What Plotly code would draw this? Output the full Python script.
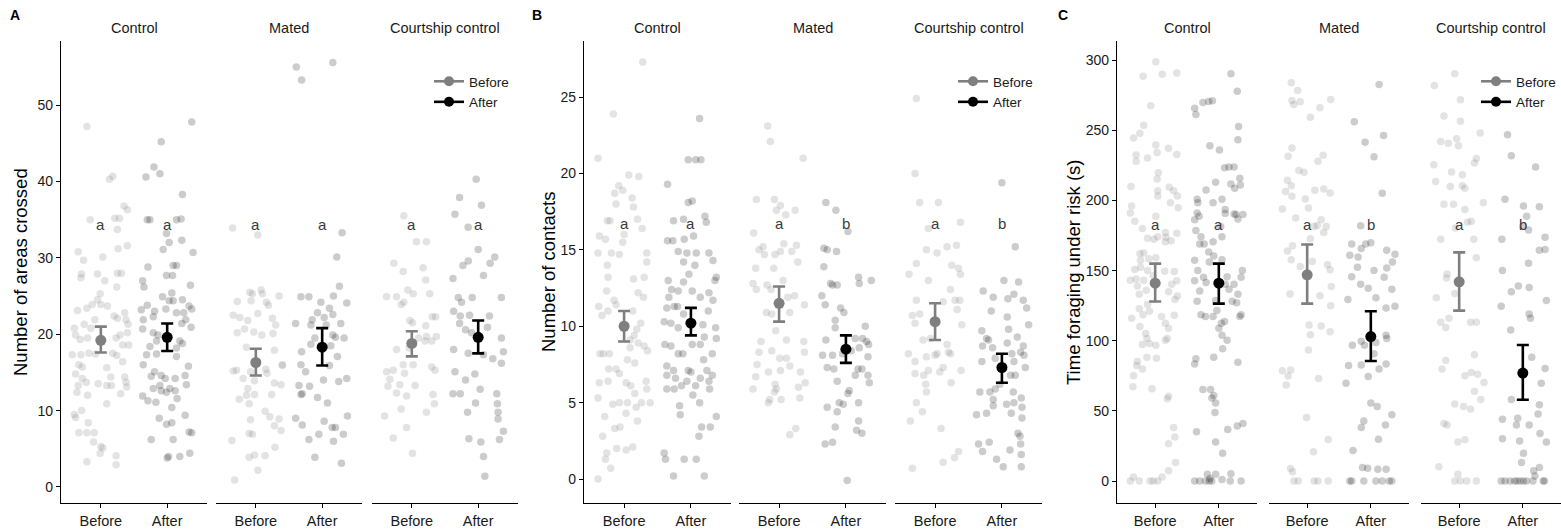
import plotly.graph_objects as go

# ---------------- data ----------------
FACETS = ["Control", "Mated", "Courtship control"]
CONDITIONS = ["Before", "After"]
PANEL_LABELS = ["A", "B", "C"]
Y_TITLES = ["Number of areas crossed", "Number of contacts", "Time foraging under risk (s)"]
A_TICKS = [0, 10, 20, 30, 40, 50]
B_TICKS = [0, 5, 10, 15, 20, 25]
C_TICKS = [0, 50, 100, 150, 200, 250, 300]

# individual observations (y) and their horizontal jitter (category units)
A_CTRL_BEF_Y = [47.2,40.7,40.3,35.0,36.3,36.8,35.2,35.2,33.7,31.2,31.6,30.8,29.7,27.9,27.4,27.9,30.1,27.0,28.0,28.0,26.2,23.1,23.4,23.9,24.5,25.3,23.9,23.7,22.4,22.1,22.8,21.9,21.3,19.9,19.5,18.6,20.2,18.6,17.5,17.2,20.8,19.9,19.3,19.5,20.8,21.9,21.3,17.3,17.3,17.5,17.4,16.0,15.7,14.8,14.2,13.7,13.3,12.4,12.0,13.5,14.4,13.3,13.3,12.2,14.4,13.7,13.1,16.4,15.6,10.9,9.5,9.1,10.0,7.1,8.4,7.1,7.1,5.9,5.3,5.1,4.4,3.3,2.9,4.1]
A_CTRL_BEF_JIT = [-0.21,0.18,0.13,-0.16,0.40,0.35,0.28,0.21,0.25,0.26,0.40,-0.34,-0.26,-0.29,-0.30,-0.05,0.03,0.06,0.25,0.31,0.24,-0.35,-0.21,-0.13,-0.05,-0.01,0.00,0.10,0.20,0.25,0.36,0.38,0.41,0.29,0.23,0.33,0.40,0.42,0.18,0.24,-0.40,-0.38,-0.31,-0.20,-0.15,-0.09,-0.25,-0.43,-0.30,-0.18,-0.08,-0.33,-0.28,-0.38,-0.28,-0.22,-0.34,-0.36,-0.20,-0.04,0.15,0.09,0.16,0.30,0.36,0.38,0.39,0.33,0.09,0.09,-0.40,-0.38,-0.29,-0.33,-0.19,-0.21,-0.10,-0.11,0.00,0.03,-0.01,-0.21,0.23,0.23]
A_CTRL_AFT_Y = [47.8,45.2,41.9,41.0,40.6,38.3,35.0,35.0,35.0,35.1,33.2,32.0,32.3,31.1,30.7,28.8,29.0,29.0,27.7,27.7,26.4,27.0,26.2,25.4,24.9,24.4,24.4,24.5,23.7,23.3,23.2,23.8,23.0,23.3,22.8,22.8,21.9,21.9,22.3,21.4,20.9,20.7,20.2,19.9,19.1,19.1,18.8,18.4,17.3,17.4,17.1,18.2,15.8,16.0,15.1,14.5,14.6,14.2,13.3,12.9,14.2,14.6,13.4,12.9,12.6,12.4,12.6,11.6,11.9,11.3,11.1,10.4,9.4,9.0,8.2,8.4,7.2,7.1,6.2,6.2,4.0,3.8,4.0,4.4]
A_CTRL_AFT_JIT = [0.37,-0.09,-0.20,-0.11,-0.32,0.23,-0.30,-0.26,0.14,0.21,-0.01,0.03,0.22,-0.06,0.39,-0.29,0.09,0.14,-0.01,0.08,0.35,-0.37,-0.35,0.07,-0.07,0.03,0.09,0.23,0.33,0.37,-0.39,-0.30,-0.19,-0.02,0.14,0.25,0.28,-0.36,-0.21,0.22,0.36,-0.37,-0.21,-0.14,-0.16,0.19,0.23,-0.26,-0.31,-0.16,0.14,0.14,0.32,-0.36,-0.19,-0.24,-0.09,-0.03,-0.11,0.04,0.12,0.27,0.29,-0.21,-0.09,-0.01,0.12,0.15,-0.37,-0.29,-0.17,0.07,0.27,-0.12,-0.01,0.07,0.33,0.37,0.09,-0.24,0.02,0.00,0.19,0.34]
A_MAT_BEF_Y = [33.9,33.0,25.5,25.3,25.8,25.3,24.3,24.2,23.8,25.0,24.4,22.5,22.2,21.8,22.7,22.1,21.2,20.2,20.7,20.3,19.9,20.1,18.3,17.9,16.0,15.2,15.3,15.1,15.4,14.9,14.2,13.9,13.6,13.4,12.9,12.0,12.1,12.1,11.5,10.9,9.9,9.2,8.9,8.8,8.0,7.4,7.0,6.9,6.1,5.2,3.9,4.2,4.1,2.2,0.9,15.9]
A_MAT_BEF_JIT = [-0.35,0.03,-0.09,-0.05,0.08,0.10,-0.28,0.16,0.19,0.35,-0.07,-0.34,-0.24,-0.12,0.03,0.25,0.30,-0.28,-0.17,-0.03,0.09,0.26,-0.14,0.28,0.40,-0.34,-0.29,-0.08,0.15,0.17,-0.19,-0.02,0.28,0.38,-0.12,-0.14,-0.02,0.24,-0.25,-0.10,0.14,0.21,0.35,-0.08,0.28,0.38,-0.10,-0.05,-0.36,0.29,-0.10,-0.02,0.14,0.03,-0.32,0.40]
A_MAT_AFT_Y = [55.0,53.3,55.6,33.3,30.1,26.3,24.9,24.9,24.2,23.4,25.0,24.1,22.8,22.2,22.6,21.4,21.9,21.2,21.2,21.4,19.9,19.6,19.5,17.7,18.7,19.5,18.5,17.1,15.9,16.0,15.1,13.3,13.2,12.2,12.1,11.7,14.0,13.8,14.2,11.0,9.3,9.0,8.1,8.6,7.8,7.8,6.2,6.9,6.0,6.9,3.9,3.1]
A_MAT_AFT_JIT = [-0.39,-0.31,0.16,0.30,0.22,0.26,-0.32,-0.20,-0.02,0.11,0.17,0.37,-0.07,0.03,0.16,-0.40,-0.15,-0.17,0.06,0.28,0.16,0.20,0.33,-0.31,-0.17,-0.11,0.13,0.23,0.11,-0.32,-0.25,-0.35,-0.19,-0.30,-0.32,-0.07,0.02,0.25,0.37,0.08,0.38,-0.40,-0.30,0.03,0.15,0.20,-0.20,-0.05,0.17,0.32,-0.11,0.29]
A_CRT_BEF_Y = [35.5,32.1,32.1,29.3,28.2,28.7,27.1,24.9,24.9,23.9,24.2,25.8,25.3,25.3,22.3,22.3,21.1,19.7,19.7,21.8,21.5,19.5,19.1,18.0,18.2,19.1,15.1,15.3,16.0,14.9,16.0,15.7,15.3,14.1,13.4,13.2,12.3,11.9,13.3,12.1,10.9,9.3,10.2,7.8,9.8,6.4,4.4]
A_CRT_BEF_JIT = [-0.12,0.07,0.22,-0.27,-0.13,0.17,0.21,-0.38,-0.23,-0.16,-0.12,-0.06,0.02,0.27,0.31,0.36,0.21,0.22,0.37,-0.03,0.01,0.10,0.20,-0.23,-0.04,0.30,-0.38,-0.28,-0.13,-0.11,0.02,0.30,0.35,-0.33,-0.18,-0.36,-0.23,-0.08,0.05,0.32,0.34,-0.41,-0.16,-0.08,0.22,-0.28,0.01]
A_CRT_AFT_Y = [40.3,37.9,36.9,35.7,34.0,31.1,29.0,29.6,29.3,30.1,27.7,27.3,24.8,24.2,24.8,24.8,23.0,22.4,22.5,22.4,21.4,20.6,20.2,20.9,19.5,17.7,18.0,17.5,17.3,16.8,16.2,14.8,14.0,15.1,12.8,12.2,12.2,11.0,9.8,12.2,10.9,9.8,8.9,7.3,6.2,6.3,5.9,4.0,1.4]
A_CRT_AFT_JIT = [-0.03,-0.28,0.05,-0.35,-0.15,0.00,-0.23,-0.15,0.18,0.25,0.08,-0.38,-0.30,-0.25,-0.09,0.35,-0.37,-0.27,-0.13,0.17,-0.28,-0.19,-0.10,0.14,0.35,0.38,-0.37,-0.15,0.08,0.22,0.35,-0.05,-0.19,-0.35,0.03,-0.38,-0.27,-0.04,-0.16,0.28,0.29,0.30,0.30,0.38,0.32,-0.14,0.04,0.08,0.10]

B_CTRL_BEF_Y = [27.3,23.9,21.0,19.9,19.8,19.2,18.7,18.9,18.0,18.4,17.8,16.9,16.9,16.4,15.9,15.7,16.0,17.0,14.8,14.8,14.7,15.5,14.8,14.2,14.0,13.2,13.1,13.2,12.3,12.2,11.9,11.3,11.7,11.4,10.7,11.0,11.0,10.2,9.8,9.4,9.1,8.9,8.7,8.4,8.2,8.2,8.2,8.6,7.8,7.6,7.2,7.2,6.3,6.4,6.9,6.3,6.1,5.6,6.4,5.9,5.3,4.9,5.0,5.0,4.7,5.0,5.0,3.8,4.1,3.3,3.4,4.3,2.8,1.7,1.3,0.7,2.0,1.9,2.1,0.0]
B_CTRL_BEF_JIT = [0.28,-0.16,-0.39,0.07,0.22,-0.08,-0.14,-0.02,-0.12,0.12,0.14,-0.25,-0.21,0.27,-0.37,-0.28,0.00,0.20,-0.39,-0.19,-0.07,-0.02,0.34,0.34,-0.25,-0.24,0.14,0.30,-0.26,0.21,0.29,-0.38,-0.15,-0.12,-0.33,-0.24,0.13,0.25,0.19,0.15,0.09,0.21,0.30,0.35,-0.36,-0.31,-0.22,0.09,0.05,0.16,-0.23,-0.12,-0.37,-0.24,-0.07,0.03,0.10,0.16,0.33,0.34,-0.39,-0.17,-0.07,0.05,0.18,0.26,0.39,0.20,-0.29,-0.14,-0.06,0.03,-0.32,-0.26,-0.28,-0.20,-0.11,0.03,0.13,-0.39]
B_CTRL_AFT_Y = [23.6,20.9,20.9,20.9,19.3,18.1,18.2,17.2,16.8,16.9,17.0,15.6,15.6,15.7,15.9,14.9,14.8,14.8,14.8,14.3,14.2,13.4,14.0,13.0,12.4,12.3,12.9,13.2,13.0,12.3,12.2,11.9,11.9,11.7,11.2,11.3,11.3,10.8,11.0,10.3,10.2,9.9,10.1,9.9,9.3,9.2,8.8,8.7,8.2,8.2,8.8,8.8,8.2,7.8,7.4,7.1,7.1,7.0,7.1,6.8,6.8,6.6,6.4,6.6,6.4,5.9,5.9,6.1,6.1,5.9,5.5,5.0,4.8,4.2,4.1,3.4,3.4,2.8,1.7,1.3,1.3,1.3,0.2,0.2]
B_CTRL_AFT_JIT = [0.13,-0.04,0.07,0.15,-0.35,-0.04,0.02,0.21,0.23,-0.26,-0.11,-0.35,-0.27,-0.10,0.04,-0.19,-0.06,0.08,0.27,0.33,-0.11,-0.03,0.06,-0.34,-0.29,-0.19,-0.11,0.38,0.36,0.02,0.27,-0.33,0.14,0.33,-0.36,-0.25,-0.20,-0.11,0.26,-0.40,-0.30,-0.19,0.18,0.37,0.20,0.38,-0.39,-0.30,-0.19,-0.12,0.02,0.14,0.32,0.19,-0.36,-0.26,-0.04,0.00,0.24,0.32,-0.36,-0.23,-0.06,0.14,0.27,-0.36,-0.25,-0.14,0.07,0.28,0.03,0.13,-0.17,-0.16,0.38,0.29,0.16,0.12,-0.40,-0.38,-0.10,0.08,-0.26,0.20]
B_MAT_BEF_Y = [23.1,22.1,21.0,18.3,18.3,17.9,17.6,17.3,17.6,16.1,15.0,15.2,14.7,14.7,14.9,15.4,14.9,15.3,14.2,13.8,13.8,12.8,12.4,12.7,12.4,13.0,12.0,11.9,11.4,10.9,10.8,10.9,9.7,9.1,9.0,8.3,8.4,9.0,8.3,7.9,7.9,7.5,6.7,7.0,7.1,7.4,7.0,5.9,6.2,5.9,5.7,6.0,6.3,5.2,5.2,5.3,5.0,2.9,3.3]
B_MAT_BEF_JIT = [-0.17,-0.13,0.36,-0.34,-0.07,0.02,-0.04,0.10,0.24,-0.38,-0.30,-0.24,-0.22,-0.06,0.02,0.07,0.19,0.26,0.28,-0.35,-0.08,-0.39,-0.34,-0.18,-0.12,0.06,0.23,0.13,0.38,-0.19,-0.11,0.16,-0.05,0.11,-0.27,-0.30,-0.11,0.37,0.38,0.01,0.11,-0.33,-0.35,-0.16,0.02,0.16,0.32,-0.39,-0.06,-0.04,-0.07,0.29,0.39,0.03,-0.14,0.31,-0.16,0.16,0.25]
B_MAT_AFT_Y = [18.1,17.6,16.2,15.1,15.0,14.9,13.9,12.8,12.7,12.7,12.0,13.2,12.8,13.0,11.4,11.2,10.9,10.4,9.9,10.0,9.1,9.2,9.2,9.0,8.8,8.1,8.1,8.2,8.4,8.6,8.0,7.3,7.2,7.2,7.2,6.4,6.8,6.8,6.3,5.8,5.6,5.0,4.9,5.0,4.4,4.7,3.4,3.8,3.0,3.2,2.3,2.4,-0.1]
B_MAT_AFT_JIT = [-0.30,-0.15,0.03,-0.33,-0.28,-0.14,-0.33,-0.23,-0.20,-0.13,-0.36,0.19,0.20,0.38,-0.31,-0.08,-0.03,-0.16,-0.16,0.29,-0.30,0.14,0.25,0.31,0.34,-0.35,-0.20,-0.05,0.08,0.20,0.33,-0.28,-0.18,0.18,0.24,-0.13,0.14,0.33,0.35,0.05,0.03,-0.10,-0.04,0.19,-0.13,-0.28,-0.16,0.19,0.24,0.16,-0.31,-0.20,0.02]
B_CRT_BEF_Y = [24.9,20.0,18.1,18.1,16.4,16.8,14.1,15.0,14.8,15.2,15.3,13.4,14.0,13.8,13.4,13.0,12.4,11.6,11.7,11.7,11.7,11.1,10.7,10.2,10.8,10.1,9.1,9.2,8.8,8.3,8.2,7.7,8.0,8.1,8.2,8.2,6.8,6.9,7.1,7.0,7.3,7.1,6.3,5.7,6.2,5.0,4.4,3.8,3.3,1.8,1.4,1.1,0.7]
B_CRT_BEF_JIT = [-0.28,-0.30,-0.23,0.05,-0.10,0.38,-0.28,-0.13,0.03,0.18,0.32,-0.39,0.25,0.35,0.38,-0.10,0.23,0.12,0.30,0.37,-0.28,0.33,-0.34,-0.30,-0.23,0.40,-0.18,-0.07,0.18,0.20,-0.40,-0.30,-0.13,0.00,0.03,0.23,-0.17,-0.30,-0.10,0.07,0.12,0.39,0.24,-0.13,-0.14,-0.28,-0.19,-0.37,0.09,0.35,0.29,0.12,-0.34]
B_CRT_AFT_Y = [19.4,15.2,13.0,12.9,12.3,11.9,11.8,12.1,11.7,11.2,11.0,10.6,10.1,9.7,9.2,9.1,9.8,9.3,8.7,8.9,8.7,8.6,8.3,8.1,7.7,7.9,8.2,7.7,7.3,6.8,6.8,5.7,5.7,5.2,5.9,6.2,5.7,5.3,4.2,4.3,4.8,4.9,5.0,4.3,4.7,4.0,3.0,2.8,2.3,2.3,1.8,2.4,1.3,0.8,1.9,1.6,0.8]
B_CRT_AFT_JIT = [0.00,0.20,0.03,0.25,-0.28,-0.13,0.09,0.18,0.32,0.37,-0.16,0.08,0.40,-0.30,-0.23,-0.20,0.10,0.23,0.32,0.08,-0.29,-0.14,0.28,0.33,-0.30,-0.10,0.15,0.18,0.35,0.13,0.20,-0.33,-0.18,-0.13,-0.10,-0.03,0.17,0.29,-0.38,-0.23,-0.13,0.07,0.18,0.14,0.30,0.30,0.24,0.27,0.28,-0.35,-0.29,-0.19,-0.08,0.02,0.12,0.29,0.29]

C_CTRL_BEF_Y = [298.8,288.4,289.9,290.8,267.4,253.6,247.8,244.4,230.3,232.3,227.9,239.5,234.2,237.1,232.8,219.7,215.3,206.9,203.2,210.0,209.3,206.9,203.2,198.4,196.0,191.1,194.8,185.1,180.0,188.7,174.2,172.3,177.1,173.7,176.6,173.0,170.6,171.3,162.1,162.6,158.5,159.2,157.3,150.7,152.4,150.0,146.4,143.2,143.2,144.0,139.1,136.0,133.1,149.5,149.3,142.8,140.3,135.0,131.9,129.4,125.8,122.9,118.6,121.0,116.1,117.3,112.5,108.9,118.1,110.1,105.2,101.6,97.3,98.0,96.8,100.4,101.6,88.3,85.2,82.3,79.8,87.6,75.0,67.3,65.8,60.5,58.6,38.2,31.5,26.6,13.3,7.3,2.9,2.9,0,0,0,0,0]
C_CTRL_BEF_JIT = [0.01,-0.19,0.11,0.34,-0.07,-0.18,-0.24,-0.34,-0.12,-0.30,-0.30,0.01,0.03,0.21,0.34,0.05,0.03,0.04,0.04,-0.38,0.22,0.29,0.35,0.24,-0.37,-0.39,0.36,-0.32,-0.20,0.01,0.04,-0.02,0.16,0.17,0.34,-0.12,0.16,0.25,-0.24,-0.18,-0.10,0.01,-0.23,-0.32,-0.23,-0.12,-0.03,-0.18,-0.39,-0.30,-0.28,-0.14,-0.25,0.15,0.30,0.34,0.26,0.21,0.35,0.31,-0.12,-0.25,-0.19,-0.09,-0.37,0.10,0.16,0.21,0.30,-0.24,-0.15,-0.13,-0.20,-0.09,0.01,0.16,0.19,-0.13,-0.28,-0.29,-0.20,0.02,-0.34,-0.35,-0.05,0.21,0.19,0.29,0.31,0.21,0.32,0.21,0.11,-0.34,-0.39,-0.25,-0.08,-0.03,0.04]
C_CTRL_AFT_Y = [290.3,277.8,265.7,261.3,269.8,270.5,271.0,252.6,243.2,239.0,235.9,223.3,223.8,223.8,211.7,208.6,215.8,211.0,212.9,207.4,200.8,198.4,198.4,191.1,186.3,188.7,200.8,193.6,190.7,190.4,190.0,190.0,186.8,178.6,174.2,170.6,181.5,174.2,168.9,168.9,163.3,160.4,157.8,156.1,157.3,150.0,145.2,141.5,142.8,135.5,128.2,118.6,117.3,145.7,140.3,136.7,140.3,145.2,150.0,133.1,128.2,127.0,118.6,117.3,128.7,121.5,117.3,113.7,112.5,108.9,104.0,100.4,94.4,87.1,83.5,88.3,84.7,65.3,65.3,61.0,55.6,59.3,48.9,35.1,36.8,39.2,41.1,27.8,19.8,4.8,1.9,4.8,5.3,0,0,0,0,0,1.2,0,0]
C_CTRL_AFT_JIT = [0.19,0.29,-0.38,-0.36,-0.25,-0.16,-0.10,0.31,0.30,-0.14,0.01,0.09,0.16,0.24,0.19,0.25,0.33,0.34,-0.05,-0.20,-0.34,-0.33,-0.09,-0.34,-0.38,-0.31,0.05,0.10,0.10,0.24,0.27,0.38,0.30,-0.36,-0.28,-0.09,0.03,0.05,-0.30,-0.23,-0.16,-0.08,0.05,-0.15,-0.38,-0.33,-0.24,-0.20,-0.38,-0.30,-0.34,-0.28,-0.21,0.13,0.10,0.16,0.24,0.35,0.37,0.30,0.21,0.28,0.35,0.33,-0.05,-0.03,-0.09,0.09,0.04,0.00,0.05,0.13,0.06,-0.36,-0.38,-0.08,0.30,-0.25,-0.13,-0.08,-0.05,-0.11,-0.06,-0.35,0.14,0.29,0.38,-0.05,0.06,-0.18,-0.14,-0.05,0.19,-0.38,-0.30,-0.21,-0.15,-0.11,0.05,0.18,0.35]
C_MAT_BEF_Y = [283.9,278.4,271.2,270.3,268.4,271.9,266.0,259.3,237.4,231.5,232.2,227.9,221.3,220.1,214.4,210.5,206.3,203.0,207.2,208.2,205.3,201.0,193.9,194.6,187.5,186.3,182.2,181.5,177.2,181.5,172.7,167.7,163.9,157.7,156.5,153.0,154.1,150.6,138.7,133.4,132.0,124.9,111.3,110.6,104.2,106.5,93.5,78.7,79.2,74.9,68.5,73.2,45.4,29.7,20.9,9.0,6.6,0,0,0,0,0]
C_MAT_BEF_JIT = [-0.25,-0.15,-0.24,-0.11,-0.21,0.37,0.20,0.05,-0.24,-0.30,0.25,0.17,-0.13,-0.05,-0.31,-0.25,-0.34,-0.24,0.12,0.26,0.36,-0.03,-0.39,0.02,-0.18,0.22,0.16,0.30,0.26,0.11,0.05,-0.23,-0.31,-0.25,0.08,-0.11,0.32,0.36,0.38,-0.27,0.20,0.37,0.03,0.22,0.05,0.36,0.02,-0.39,-0.26,-0.30,-0.33,0.18,-0.01,0.33,0.10,-0.26,-0.23,-0.21,-0.14,0.11,0.17,0.33]
C_MAT_AFT_Y = [282.6,256.0,241.5,246.3,231.1,205.2,181.9,168.9,165.7,168.9,169.9,164.5,161.6,160.9,159.7,152.4,150.0,151.9,156.1,145.7,140.3,137.4,145.2,136.7,124.6,130.7,129.4,123.4,96.8,99.7,96.8,98.7,90.7,104.0,101.6,82.3,82.7,79.8,83.5,69.7,74.5,55.6,53.2,47.2,42.8,39.9,38.2,29.8,21.8,9.7,9.2,8.5,8.5,0,0,0,0,0,0,0]
C_MAT_AFT_JIT = [0.13,-0.26,-0.09,0.20,0.05,0.18,-0.16,-0.30,-0.15,-0.08,0.00,0.25,0.38,-0.33,-0.20,-0.21,0.05,0.25,0.34,-0.30,-0.16,-0.04,0.21,0.33,0.38,0.08,-0.36,0.24,-0.29,-0.15,-0.10,0.08,0.05,0.24,0.25,-0.35,-0.15,0.13,0.24,-0.39,-0.04,0.00,0.10,0.33,-0.11,0.23,-0.15,0.12,-0.28,-0.13,-0.05,0.11,0.24,-0.33,-0.30,-0.11,0.08,0.18,0.29,0.33]
C_CRT_BEF_Y = [290.3,281.9,271.7,260.1,256.5,248.0,242.0,240.7,243.9,239.0,229.9,226.7,225.5,220.2,218.3,213.4,210.4,209.9,208.6,197.2,198.4,197.2,193.6,185.1,184.4,172.3,180.3,172.3,159.2,147.6,130.7,144.7,133.6,116.1,113.2,109.4,113.2,113.2,90.0,85.9,79.8,75.0,77.4,76.2,70.2,64.1,54.9,53.2,51.3,58.1,41.1,39.9,27.8,29.5,10.2,4.8,0,0,0,0]
C_CRT_BEF_JIT = [-0.07,-0.39,0.02,-0.24,0.02,0.33,-0.29,-0.17,-0.04,-0.01,0.27,0.24,-0.40,-0.12,0.05,-0.37,0.05,-0.14,0.09,-0.24,0.38,-0.09,0.09,0.19,0.13,-0.29,-0.06,0.23,0.27,-0.19,-0.36,-0.20,-0.07,-0.16,-0.29,-0.21,0.18,0.27,0.24,-0.21,-0.27,0.09,0.19,0.29,0.39,0.24,-0.07,0.07,0.18,0.34,-0.24,-0.19,-0.02,0.09,-0.32,-0.02,-0.07,0.02,0.12,0.27]
C_CRT_AFT_Y = [173.7,246.8,231.8,223.8,200.8,196.0,188.7,195.5,172.3,181.5,179.0,165.0,164.5,155.3,150.0,135.0,139.1,137.9,128.7,124.6,119.0,116.1,107.7,88.3,80.3,69.7,54.4,47.9,58.1,44.0,44.8,39.9,39.9,33.9,27.8,30.2,28.6,19.8,13.3,7.3,9.7,3.6,0,0,0,0,0,0,0,0,0,0,0]
C_CRT_AFT_JIT = [0.35,-0.24,-0.18,0.20,-0.28,0.01,0.06,0.26,-0.33,0.00,0.09,0.35,0.26,0.09,-0.32,-0.18,-0.07,0.10,0.37,-0.34,0.10,0.12,-0.19,0.14,0.35,0.29,0.26,0.24,-0.18,-0.32,-0.08,0.10,-0.10,0.27,0.37,-0.32,-0.05,0.01,-0.02,0.17,0.26,0.19,-0.34,-0.28,-0.20,-0.13,-0.09,-0.04,0.01,0.06,0.16,0.32,0.34]

# means with lower / upper error limits; order: Ctrl-B, Ctrl-A, Mated-B, Mated-A, Court-B, Court-A
A_MEAN = [19.2, 19.6, 16.3, 18.3, 18.8, 19.6]
A_LO = [17.6, 17.8, 14.6, 15.9, 17.1, 17.5]
A_HI = [21.0, 21.4, 18.1, 20.8, 20.4, 21.8]
B_MEAN = [10.0, 10.2, 11.5, 8.5, 10.3, 7.3]
B_LO = [9.0, 9.4, 10.3, 7.6, 9.1, 6.3]
B_HI = [11.0, 11.2, 12.6, 9.4, 11.5, 8.2]
C_MEAN = [141, 141, 147, 103, 142, 77]
C_LO = [128, 126.5, 126.5, 85.6, 121.5, 58]
C_HI = [155, 155, 168.6, 121, 163, 97]

# significance letters
A_LETTERS = ["a", "a", "a", "a", "a", "a"]
B_LETTERS = ["a", "a", "a", "b", "a", "b"]
C_LETTERS = ["a", "a", "a", "b", "a", "b"]
A_LETTER_Y = 34.4
B_LETTER_Y = 16.7
C_LETTER_Y = 182.7

# ---------------- layout helpers ----------------
W, H = 1561, 532
Y_TOP, Y_BOT = 41, 503
FONT = "Liberation Sans, Arial, sans-serif"
PT_COL = ["rgba(128,128,128,0.22)", "rgba(0,0,0,0.2)"]
MEAN_COL = ["#7f7f7f", "#000000"]

panels = [
    dict(points=[(A_CTRL_BEF_Y, A_CTRL_BEF_JIT, A_CTRL_AFT_Y, A_CTRL_AFT_JIT),
                 (A_MAT_BEF_Y, A_MAT_BEF_JIT, A_MAT_AFT_Y, A_MAT_AFT_JIT),
                 (A_CRT_BEF_Y, A_CRT_BEF_JIT, A_CRT_AFT_Y, A_CRT_AFT_JIT)],
         mean=A_MEAN, lo=A_LO, hi=A_HI, letters=A_LETTERS, ly=A_LETTER_Y,
         ticks=A_TICKS, yrange=[-2.1, 58.4],
         starts=[61, 216, 372], width=146, title_x=20, tag_x=15, tag_y=15, leg_x=429),
    dict(points=[(B_CTRL_BEF_Y, B_CTRL_BEF_JIT, B_CTRL_AFT_Y, B_CTRL_AFT_JIT),
                 (B_MAT_BEF_Y, B_MAT_BEF_JIT, B_MAT_AFT_Y, B_MAT_AFT_JIT),
                 (B_CRT_BEF_Y, B_CRT_BEF_JIT, B_CRT_AFT_Y, B_CRT_AFT_JIT)],
         mean=B_MEAN, lo=B_LO, hi=B_HI, letters=B_LETTERS, ly=B_LETTER_Y,
         ticks=B_TICKS, yrange=[-1.57, 28.67],
         starts=[584, 739, 895], width=147, title_x=548, tag_x=537, tag_y=15, leg_x=953),
    dict(points=[(C_CTRL_BEF_Y, C_CTRL_BEF_JIT, C_CTRL_AFT_Y, C_CTRL_AFT_JIT),
                 (C_MAT_BEF_Y, C_MAT_BEF_JIT, C_MAT_AFT_Y, C_MAT_AFT_JIT),
                 (C_CRT_BEF_Y, C_CRT_BEF_JIT, C_CRT_AFT_Y, C_CRT_AFT_JIT)],
         mean=C_MEAN, lo=C_LO, hi=C_HI, letters=C_LETTERS, ly=C_LETTER_Y,
         ticks=C_TICKS, yrange=[-15.6, 313.6],
         starts=[1117, 1269, 1421], width=140, title_x=1073, tag_x=1063, tag_y=15, leg_x=1476),
]

fig = go.Figure()
layout = {}
annotations = []
ydom = [(H - Y_BOT) / H, (H - Y_TOP) / H]
xtick_font = dict(family=FONT, size=14.5, color="#1a1a1a")
ytick_font = dict(family=FONT, size=14, color="#1a1a1a")

for pi, p in enumerate(panels):
    ykey = "yaxis" if pi == 0 else f"yaxis{pi + 1}"
    yref = "y" if pi == 0 else f"y{pi + 1}"
    first_x = None
    for fi in range(3):
        k = pi * 3 + fi + 1
        xkey = "xaxis" if k == 1 else f"xaxis{k}"
        xref = "x" if k == 1 else f"x{k}"
        if fi == 0:
            first_x = xref
        x0 = p["starts"][fi]
        x1 = min(x0 + p["width"], W)
        layout[xkey] = dict(domain=[x0 / W, x1 / W], range=[0.4, 2.6], anchor=yref,
                            tickvals=[1, 2], ticktext=CONDITIONS, showline=True,
                            linecolor="black", linewidth=1.2, ticks="outside", ticklen=4,
                            tickcolor="black", showgrid=False, zeroline=False,
                            tickfont=xtick_font, fixedrange=True)
        yb, jb, ya, ja = p["points"][fi]
        for ci, (ys, js) in enumerate([(yb, jb), (ya, ja)]):
            xs = [ci + 1 + j for j, _ in zip(js, ys)]
            fig.add_trace(go.Scatter(x=xs, y=ys[:len(xs)], mode="markers", xaxis=xref, yaxis=yref,
                                     marker=dict(size=7.5, color=PT_COL[ci], line=dict(width=0)),
                                     showlegend=False, hoverinfo="skip"))
        for ci in range(2):
            idx = fi * 2 + ci
            m = p["mean"][idx]
            fig.add_trace(go.Scatter(
                x=[ci + 1], y=[m], mode="markers", xaxis=xref, yaxis=yref,
                marker=dict(size=11, color=MEAN_COL[ci]),
                error_y=dict(type="data", symmetric=False, array=[p["hi"][idx] - m],
                             arrayminus=[m - p["lo"][idx]], color=MEAN_COL[ci],
                             thickness=2.6, width=6),
                showlegend=False, hoverinfo="skip"))
            annotations.append(dict(x=ci + 1, y=p["ly"], xref=xref, yref=yref,
                                    xanchor="center", yanchor="middle",
                                    text=p["letters"][idx], showarrow=False,
                                    font=dict(family=FONT, size=15, color="#3a3a3a")))
        # strip label
        annotations.append(dict(x=(x0 + x1) / 2 / W, y=(H - 28) / H, xref="paper", yref="paper",
                                xanchor="center", yanchor="middle",
                                text=FACETS[fi], showarrow=False,
                                font=dict(family=FONT, size=14.5, color="#1a1a1a")))
    layout[ykey] = dict(domain=ydom, range=p["yrange"], anchor=first_x, tickvals=p["ticks"],
                        showline=True, linecolor="black", linewidth=1.2, ticks="outside",
                        ticklen=4, tickcolor="black", showgrid=False, zeroline=False,
                        tickfont=ytick_font, fixedrange=True)
    annotations.append(dict(x=p["title_x"] / W, y=(H - (Y_TOP + Y_BOT) / 2) / H, xref="paper",
                            yref="paper", xanchor="center", yanchor="middle",
                            text=Y_TITLES[pi], textangle=-90, showarrow=False,
                            font=dict(family=FONT, size=18.5, color="black")))
    annotations.append(dict(x=p["tag_x"] / W, y=(H - p["tag_y"]) / H, xref="paper", yref="paper",
                            xanchor="center", yanchor="middle",
                            text=f"<b>{PANEL_LABELS[pi]}</b>", showarrow=False,
                            font=dict(family=FONT, size=14, color="black")))
    # legend entries
    lname = "legend" if pi == 0 else f"legend{pi + 1}"
    for ci in range(2):
        fig.add_trace(go.Scatter(x=[None], y=[None], mode="lines+markers", name=CONDITIONS[ci],
                                 xaxis=first_x, yaxis=yref, legend=lname,
                                 line=dict(color=MEAN_COL[ci], width=2.6),
                                 marker=dict(size=10, color=MEAN_COL[ci])))
    layout[lname] = dict(x=p["leg_x"] / W, y=(H - 66) / H, xanchor="left", yanchor="top",
                         bgcolor="rgba(0,0,0,0)", borderwidth=0, itemwidth=30,
                         font=dict(family=FONT, size=13.5, color="#1a1a1a"),
                         tracegroupgap=0, itemclick=False, itemdoubleclick=False)

fig.update_layout(width=W, height=H, margin=dict(l=0, r=0, t=0, b=0),
                  plot_bgcolor="white", paper_bgcolor="white",
                  annotations=annotations, **layout)
fig.write_html("out.html", config={"displayModeBar": False})
